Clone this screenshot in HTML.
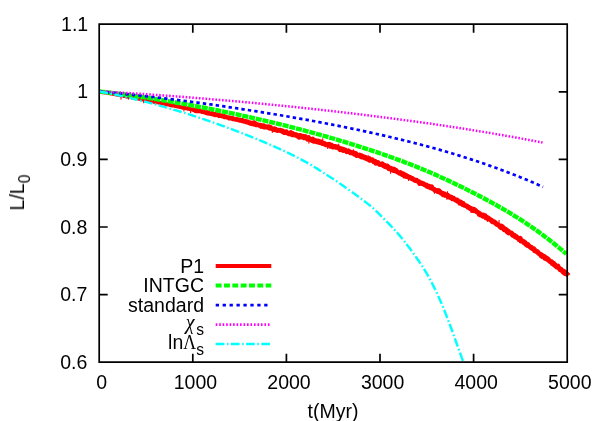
<!DOCTYPE html>
<html><head><meta charset="utf-8"><title>plot</title>
<style>html,body{margin:0;padding:0;background:#fff}body{width:600px;height:421px;overflow:hidden}</style></head>
<body>
<svg width="600" height="421" viewBox="0 0 600 421" style="display:block;font-family:'Liberation Sans',sans-serif;font-size:19.5px">
<rect width="600" height="421" fill="#fff"/>
<path d="M192.80,362.2 v-8.5 M192.80,24.2 v8.5 M99.2,91.80 h8.5 M567.2,91.80 h-8.5 M286.40,362.2 v-8.5 M286.40,24.2 v8.5 M99.2,159.40 h8.5 M567.2,159.40 h-8.5 M380.00,362.2 v-8.5 M380.00,24.2 v8.5 M99.2,227.00 h8.5 M567.2,227.00 h-8.5 M473.60,362.2 v-8.5 M473.60,24.2 v8.5 M99.2,294.60 h8.5 M567.2,294.60 h-8.5" fill="none" stroke="#000" stroke-width="1.7"/>
<path d="M99.50,91.50 L100.02,91.59 L100.54,91.68 L101.06,91.90 L101.59,91.83 L102.11,91.92 L102.63,92.28 L103.15,92.16 L103.67,92.22 L104.19,92.41 L104.71,92.55 L105.24,92.50 L105.76,92.67 L106.28,92.57 L106.80,92.74 L107.32,92.82 L107.84,92.80 L108.36,92.87 L108.89,92.95 L109.41,93.22 L109.93,93.32 L110.45,93.39 L110.97,93.54 L111.49,93.46 L112.02,93.71 L112.54,93.84 L113.06,94.00 L113.58,93.89 L114.10,94.04 L114.62,93.94 L115.14,94.22 L115.67,94.10 L116.19,94.29 L116.71,94.70 L117.23,94.39 L117.75,94.86 L118.27,94.89 L118.79,94.91 L119.32,95.10 L119.84,95.21 L120.36,95.37 L120.88,95.30 L121.40,95.35 L121.92,95.45 L122.44,95.50 L122.97,95.71 L123.49,95.71 L124.01,96.04 L124.53,95.77 L125.05,95.97 L125.57,96.08 L126.09,96.04 L126.62,96.63 L127.14,96.19 L127.66,96.56 L128.18,96.62 L128.70,96.99 L129.22,96.64 L129.75,97.12 L130.27,96.99 L130.79,97.16 L131.31,97.19 L131.83,97.46 L132.35,97.33 L132.87,97.56 L133.40,97.72 L133.92,98.00 L134.44,97.57 L134.96,98.16 L135.48,98.19 L136.00,98.11 L136.52,98.31 L137.05,98.31 L137.57,98.67 L138.09,98.59 L138.61,98.64 L139.13,98.74 L139.65,98.84 L140.17,98.95 L140.70,98.96 L141.22,99.43 L141.74,99.03 L142.26,98.92 L142.78,99.46 L143.30,99.56 L143.82,99.72 L144.35,99.75 L144.87,99.86 L145.39,100.02 L145.91,100.20 L146.43,100.13 L146.95,100.24 L147.48,100.63 L148.00,100.56 L148.52,100.47 L149.04,100.99 L149.56,100.89 L150.08,100.83 L150.60,100.86 L151.13,101.14 L151.65,101.10 L152.17,101.18 L152.69,101.25 L153.21,101.46 L153.73,101.76 L154.25,101.67 L154.78,101.65 L155.30,102.02 L155.82,102.04 L156.34,102.25 L156.86,102.39 L157.38,102.33 L157.90,102.43 L158.43,102.55 L158.95,102.52 L159.47,102.85 L159.99,103.04 L160.51,103.00 L161.03,103.05 L161.55,103.15 L162.08,103.19 L162.60,103.29 L163.12,103.45 L163.64,103.49 L164.16,103.65 L164.68,103.60 L165.21,103.97 L165.73,104.04 L166.25,103.97 L166.77,103.92 L167.29,104.35 L167.81,104.61 L168.33,104.45 L168.86,104.60 L169.38,104.69 L169.90,104.98 L170.42,104.85 L170.94,105.24 L171.46,105.15 L171.98,105.45 L172.51,105.42 L173.03,105.49 L173.55,105.39 L174.07,105.63 L174.59,105.80 L175.11,106.06 L175.63,106.10 L176.16,106.05 L176.68,106.34 L177.20,106.55 L177.72,106.47 L178.24,106.52 L178.76,106.64 L179.28,106.96 L179.81,107.02 L180.33,106.87 L180.85,107.21 L181.37,107.16 L181.89,107.22 L182.41,107.69 L182.93,107.73 L183.46,107.55 L183.98,107.81 L184.50,108.00 L185.02,107.89 L185.54,108.10 L186.06,108.36 L186.59,108.00 L187.11,108.52 L187.63,108.71 L188.15,108.77 L188.67,108.52 L189.19,108.96 L189.71,108.83 L190.24,109.23 L190.76,109.35 L191.28,109.38 L191.80,109.29 L192.32,109.43 L192.84,109.84 L193.36,109.59 L193.89,109.99 L194.41,110.11 L194.93,110.05 L195.45,110.73 L195.97,110.35 L196.49,110.91 L197.01,110.12 L197.54,110.18 L198.06,111.00" fill="none" stroke="#ff0000" stroke-width="3.9" stroke-linejoin="round"/>
<path d="M193.36,109.59 L193.89,109.99 L194.41,110.11 L194.93,110.05 L195.45,110.73 L195.97,110.35 L196.49,110.91 L197.01,110.12 L197.54,110.18 L198.06,111.00 L198.58,111.03 L199.10,110.93 L199.62,111.10 L200.14,110.80 L200.66,111.20 L201.19,111.22 L201.71,111.51 L202.23,111.88 L202.75,111.80 L203.27,111.99 L203.79,111.85 L204.32,112.03 L204.84,112.27 L205.36,112.29 L205.88,112.77 L206.40,112.37 L206.92,113.16 L207.44,112.57 L207.97,113.19 L208.49,112.85 L209.01,113.56 L209.53,113.30 L210.05,113.48 L210.57,113.69 L211.09,113.45 L211.62,113.46 L212.14,113.33 L212.66,114.27 L213.18,113.90 L213.70,114.04 L214.22,114.30 L214.74,114.94 L215.27,114.09 L215.79,114.72 L216.31,114.67 L216.83,115.03 L217.35,114.52 L217.87,115.02 L218.39,115.47 L218.92,115.78 L219.44,115.91 L219.96,115.36 L220.48,115.73 L221.00,115.80 L221.52,115.57 L222.05,115.67 L222.57,116.40 L223.09,116.38 L223.61,116.39 L224.13,116.89 L224.65,116.38 L225.17,116.94 L225.70,116.91 L226.22,117.01 L226.74,117.29 L227.26,117.32 L227.78,117.47 L228.30,117.59 L228.82,118.21 L229.35,117.66 L229.87,118.18 L230.39,118.18 L230.91,118.02 L231.43,118.49 L231.95,118.11 L232.47,118.85 L233.00,118.37 L233.52,118.59 L234.04,118.96 L234.56,119.25 L235.08,119.40 L235.60,119.52 L236.12,119.30 L236.65,119.19 L237.17,119.79 L237.69,119.84 L238.21,119.56 L238.73,120.30 L239.25,120.18 L239.77,119.93 L240.30,120.52 L240.82,120.07 L241.34,120.34 L241.86,120.89 L242.38,120.37 L242.90,121.02 L243.43,120.69 L243.95,121.52 L244.47,121.15 L244.99,121.59 L245.51,121.15 L246.03,121.67 L246.55,122.24 L247.08,122.21 L247.60,121.55 L248.12,122.63 L248.64,122.75 L249.16,122.44 L249.68,123.20 L250.20,122.47 L250.73,122.94 L251.25,123.50 L251.77,123.70 L252.29,123.82 L252.81,123.11 L253.33,123.00 L253.85,123.91 L254.38,123.39 L254.90,123.99 L255.42,123.70" fill="none" stroke="#ff0000" stroke-width="4.4" stroke-linejoin="round"/>
<path d="M250.73,122.94 L251.25,123.50 L251.77,123.70 L252.29,123.82 L252.81,123.11 L253.33,123.00 L253.85,123.91 L254.38,123.39 L254.90,123.99 L255.42,123.70 L255.94,124.69 L256.46,124.73 L256.98,124.78 L257.50,124.72 L258.03,124.86 L258.55,124.87 L259.07,125.26 L259.59,125.35 L260.11,125.56 L260.63,125.36 L261.16,126.38 L261.68,125.91 L262.20,126.47 L262.72,126.58 L263.24,125.87 L263.76,125.70 L264.28,126.97 L264.81,126.47 L265.33,126.79 L265.85,126.80 L266.37,127.09 L266.89,126.71 L267.41,127.28 L267.93,127.27 L268.46,127.59 L268.98,126.80 L269.50,128.20 L270.02,128.14 L270.54,127.46 L271.06,128.00 L271.58,128.44 L272.11,128.83 L272.63,128.71 L273.15,129.42 L273.67,129.00 L274.19,128.72 L274.71,129.00 L275.23,129.72 L275.76,129.30 L276.28,130.05 L276.80,130.27 L277.32,130.23 L277.84,130.55 L278.36,130.19 L278.89,130.41 L279.41,130.30 L279.93,130.44 L280.45,130.17 L280.97,130.74 L281.49,130.66 L282.01,130.65 L282.54,131.47 L283.06,131.75 L283.58,131.55 L284.10,132.43 L284.62,132.39 L285.14,132.58 L285.66,132.00 L286.19,131.76 L286.71,132.80 L287.23,132.84 L287.75,133.17 L288.27,133.18 L288.79,133.70 L289.31,133.15 L289.84,133.72 L290.36,133.16 L290.88,132.67 L291.40,133.66 L291.92,134.68 L292.44,133.38 L292.96,134.76 L293.49,134.13 L294.01,134.40 L294.53,134.75 L295.05,134.98 L295.57,134.57 L296.09,135.23 L296.62,135.52 L297.14,135.86 L297.66,135.26 L298.18,136.49 L298.70,136.81 L299.22,137.20 L299.74,135.57 L300.27,136.43 L300.79,135.61 L301.31,136.83 L301.83,137.06 L302.35,136.39 L302.87,136.33 L303.39,137.34 L303.92,137.70 L304.44,137.16 L304.96,137.57 L305.48,136.61 L306.00,137.65 L306.52,138.22 L307.04,138.37 L307.57,139.23 L308.09,138.04 L308.61,137.64 L309.13,139.13 L309.65,138.77 L310.17,139.36 L310.69,139.73 L311.22,139.82 L311.74,140.40 L312.26,140.51 L312.78,139.15 L313.30,140.11 L313.82,141.30 L314.34,140.25 L314.87,141.09 L315.39,140.74 L315.91,140.71 L316.43,141.87 L316.95,141.76 L317.47,141.27 L318.00,142.01 L318.52,141.06 L319.04,141.51 L319.56,142.48 L320.08,142.21 L320.60,141.82 L321.12,142.74 L321.65,142.84 L322.17,143.48 L322.69,143.48 L323.21,143.02 L323.73,143.08 L324.25,143.42 L324.77,143.54 L325.30,144.55 L325.82,144.78 L326.34,144.83 L326.86,144.50 L327.38,144.36 L327.90,145.10 L328.42,144.64 L328.95,145.10 L329.47,144.32 L329.99,145.11 L330.51,146.21 L331.03,145.14 L331.55,145.08 L332.07,145.91 L332.60,147.00 L333.12,147.06 L333.64,146.33 L334.16,146.44 L334.68,146.80 L335.20,146.56 L335.73,147.22 L336.25,147.23 L336.77,146.82 L337.29,147.44 L337.81,147.78 L338.33,147.65 L338.85,147.70 L339.38,148.89 L339.90,149.56 L340.42,148.65 L340.94,148.76 L341.46,149.41 L341.98,149.22 L342.50,149.13 L343.03,150.39 L343.55,149.36 L344.07,149.70 L344.59,149.91 L345.11,149.99 L345.63,150.50 L346.15,151.09 L346.68,151.71 L347.20,151.50 L347.72,151.37 L348.24,150.92 L348.76,151.70 L349.28,151.45 L349.80,152.06 L350.33,152.79 L350.85,152.59 L351.37,152.57 L351.89,152.49 L352.41,153.05 L352.93,153.31 L353.46,152.98 L353.98,153.39 L354.50,154.27 L355.02,153.20 L355.54,154.00 L356.06,153.83 L356.58,155.38 L357.11,155.11 L357.63,155.26 L358.15,155.40 L358.67,155.54 L359.19,155.75 L359.71,155.01 L360.23,156.13 L360.76,156.50 L361.28,155.69 L361.80,157.01 L362.32,157.14 L362.84,156.25 L363.36,156.97 L363.88,157.26 L364.41,157.35 L364.93,158.02 L365.45,157.39 L365.97,158.12 L366.49,158.55 L367.01,159.01 L367.53,158.88 L368.06,158.94 L368.58,159.62 L369.10,158.49 L369.62,160.16 L370.14,159.75 L370.66,159.49 L371.18,160.11 L371.71,159.62 L372.23,159.73 L372.75,160.80 L373.27,160.79 L373.79,161.76 L374.31,161.17 L374.84,161.18 L375.36,161.57 L375.88,163.12 L376.40,162.49 L376.92,162.39 L377.44,162.42 L377.96,162.59 L378.49,163.27 L379.01,163.79 L379.53,164.37 L380.05,164.59 L380.57,164.38 L381.09,164.14 L381.61,164.26 L382.14,163.76 L382.66,164.63 L383.18,165.58 L383.70,165.42 L384.22,166.00 L384.74,165.37 L385.26,166.72 L385.79,166.65 L386.31,166.75 L386.83,167.16 L387.35,166.07 L387.87,167.14 L388.39,167.20 L388.91,168.79 L389.44,168.02 L389.96,168.10 L390.48,169.01 L391.00,168.29 L391.52,169.76 L392.04,168.93 L392.57,169.49 L393.09,169.30 L393.61,170.39 L394.13,169.14 L394.65,170.81 L395.17,170.29 L395.69,170.96 L396.22,170.60 L396.74,171.53 L397.26,171.75 L397.78,172.19 L398.30,172.29 L398.82,172.69 L399.34,173.11 L399.87,172.66 L400.39,172.51 L400.91,172.70 L401.43,173.92 L401.95,173.63 L402.47,174.59 L402.99,174.33 L403.52,174.05 L404.04,175.25 L404.56,176.01 L405.08,175.20 L405.60,175.06 L406.12,175.35 L406.64,176.47 L407.17,175.98 L407.69,176.31 L408.21,177.10 L408.73,177.01 L409.25,177.31 L409.77,177.23 L410.30,177.43 L410.82,178.08 L411.34,178.32 L411.86,178.79 L412.38,178.49 L412.90,179.16 L413.42,179.48 L413.95,179.53 L414.47,180.03 L414.99,180.50 L415.51,180.34 L416.03,180.53 L416.55,180.26 L417.07,181.16 L417.60,181.20 L418.12,181.34 L418.64,181.33 L419.16,182.29 L419.68,183.53 L420.20,182.72 L420.72,182.80 L421.25,183.22 L421.77,182.96 L422.29,183.56 L422.81,183.43 L423.33,183.70 L423.85,184.39 L424.37,184.64 L424.90,184.72 L425.42,184.63 L425.94,185.42 L426.46,184.99 L426.98,186.18 L427.50,185.87 L428.03,186.30 L428.55,186.95 L429.07,187.09 L429.59,186.41 L430.11,187.19 L430.63,187.75 L431.15,187.28 L431.68,186.88 L432.20,188.30 L432.72,188.57 L433.24,189.06 L433.76,189.14 L434.28,189.42 L434.80,189.73 L435.33,190.56 L435.85,190.37 L436.37,190.65 L436.89,190.44 L437.41,191.46 L437.93,191.06 L438.45,191.78 L438.98,190.62 L439.50,192.05 L440.02,192.14 L440.54,192.22 L441.06,193.35 L441.58,193.17 L442.10,193.16 L442.63,193.22 L443.15,194.69 L443.67,194.38 L444.19,194.60 L444.71,194.15 L445.23,195.45 L445.75,195.34 L446.28,195.19 L446.80,195.53 L447.32,195.04 L447.84,196.44 L448.36,195.83 L448.88,197.06 L449.41,196.69 L449.93,196.86 L450.45,197.62 L450.97,197.81 L451.49,197.41 L452.01,198.21 L452.53,198.82 L453.06,198.66 L453.58,198.38 L454.10,199.20 L454.62,199.11 L455.14,199.58 L455.66,200.16 L456.18,200.38 L456.71,200.58 L457.23,200.13 L457.75,201.40 L458.27,201.40 L458.79,201.58 L459.31,202.13 L459.83,203.29 L460.36,201.97 L460.88,202.09 L461.40,203.55 L461.92,203.05 L462.44,204.37 L462.96,203.52 L463.48,204.05 L464.01,204.99 L464.53,205.31 L465.05,205.36 L465.57,205.65 L466.09,205.64 L466.61,205.77 L467.14,206.18 L467.66,207.20 L468.18,207.21 L468.70,207.15 L469.22,207.59 L469.74,208.14 L470.26,208.60 L470.79,208.24 L471.31,208.56 L471.83,209.06 L472.35,210.49 L472.87,209.61 L473.39,210.41 L473.91,209.32 L474.44,210.80 L474.96,209.98 L475.48,210.44 L476.00,210.96 L476.52,211.51 L477.04,211.97 L477.56,212.37 L478.09,212.60 L478.61,212.58 L479.13,214.39 L479.65,213.60 L480.17,214.05 L480.69,215.03 L481.21,214.81 L481.74,214.93 L482.26,215.11 L482.78,216.19 L483.30,215.04 L483.82,215.42 L484.34,216.28 L484.87,215.51 L485.39,216.45 L485.91,217.71 L486.43,217.24 L486.95,217.87 L487.47,218.45 L487.99,217.85 L488.52,218.88 L489.04,218.76 L489.56,218.85 L490.08,219.58 L490.60,220.01 L491.12,220.17 L491.64,220.36 L492.17,221.49 L492.69,221.92 L493.21,221.95 L493.73,221.95 L494.25,221.81 L494.77,222.25 L495.29,222.44 L495.82,223.43 L496.34,224.11 L496.86,224.44 L497.38,224.31 L497.90,224.47 L498.42,225.08 L498.94,225.39 L499.47,225.96 L499.99,226.73 L500.51,226.00 L501.03,227.72 L501.55,225.98 L502.07,226.48 L502.59,226.95 L503.12,227.54 L503.64,228.27 L504.16,229.76 L504.68,228.73 L505.20,229.97 L505.72,229.59 L506.25,230.19 L506.77,229.96 L507.29,231.93 L507.81,231.14 L508.33,231.20 L508.85,232.98 L509.37,232.30 L509.90,232.77 L510.42,232.84 L510.94,232.85 L511.46,232.91 L511.98,233.88 L512.50,235.13 L513.02,234.89 L513.55,234.95 L514.07,235.92 L514.59,235.29 L515.11,236.79 L515.63,236.46 L516.15,236.42 L516.67,237.52 L517.20,237.80 L517.72,237.74 L518.24,238.38 L518.76,239.12 L519.28,239.69 L519.80,238.94 L520.32,238.42 L520.85,241.11 L521.37,240.33 L521.89,240.62 L522.41,241.40 L522.93,241.35 L523.45,242.44 L523.98,241.68 L524.50,242.57 L525.02,242.41 L525.54,244.16 L526.06,243.66 L526.58,244.70 L527.10,245.21 L527.63,244.30 L528.15,245.16 L528.67,246.00 L529.19,246.05 L529.71,246.33 L530.23,247.19 L530.75,247.60 L531.28,247.23 L531.80,247.84 L532.32,248.60 L532.84,248.77 L533.36,249.11 L533.88,248.87 L534.40,250.67 L534.93,250.07 L535.45,250.70 L535.97,250.93 L536.49,251.36 L537.01,251.79 L537.53,251.68 L538.05,252.67 L538.58,253.46 L539.10,253.45 L539.62,254.00 L540.14,254.27 L540.66,254.43 L541.18,255.70 L541.71,254.85 L542.23,255.77 L542.75,256.48 L543.27,256.50 L543.79,256.23 L544.31,256.60 L544.83,258.31 L545.36,257.45 L545.88,258.32 L546.40,258.98 L546.92,259.15 L547.44,258.62 L547.96,258.95 L548.48,260.23 L549.01,260.30 L549.53,260.95 L550.05,261.52 L550.57,261.95 L551.09,261.60 L551.61,261.83 L552.13,263.53 L552.66,263.15 L553.18,263.28 L553.70,263.27 L554.22,264.93 L554.74,264.44 L555.26,264.94 L555.78,266.18 L556.31,266.42 L556.83,266.95 L557.35,266.44 L557.87,266.05 L558.39,267.39 L558.91,268.13 L559.44,268.36 L559.96,269.54 L560.48,269.68 L561.00,269.39 L561.52,270.59 L562.04,270.64 L562.56,270.88 L563.09,272.09 L563.61,271.11 L564.13,272.86 L564.65,273.30 L565.17,272.15 L565.69,273.48 L566.21,273.91 L566.74,273.83 L567.26,274.52 L567.78,274.82 L568.30,275.66" fill="none" stroke="#ff0000" stroke-width="4.9" stroke-linejoin="round"/>
<path d="M120.9,95.3 l0.2,4.3 M128.2,96.7 l0.3,2.9 M143.3,99.6 l0.4,3.6 M184.0,107.8 l-0.1,3.7 M190.8,109.2 l-0.2,4.1 M253.9,123.8 l0.5,-3.7 M272.1,128.6 l0.3,4.3 M309.1,138.9 l-0.3,4.7 M322.7,143.0 l0.0,-4.7 M327.9,144.6 l-0.2,4.4 M338.9,148.3 l-0.3,-4.6 M354.0,153.6 l-0.6,-4.3 M368.1,159.1 l-0.0,-4.1 M391.0,168.8 l-0.5,4.9 M408.7,177.0 l-0.1,4.0 M434.8,189.6 l-0.4,4.1 M446.8,195.6 l0.1,4.1 M447.8,196.1 l-0.4,-4.8 M464.0,204.6 l-0.1,-3.5 M470.8,208.3 l0.2,4.3 M487.0,217.8 l0.5,4.1 M498.9,225.3 l0.2,-5.3 M517.2,237.5 l0.6,3.9 M541.7,255.2 l-0.3,3.7" fill="none" stroke="#ff0000" stroke-width="1.1"/>
<path d="M99.50,91.50 L101.06,91.67 L102.62,91.85 L104.18,92.02 L105.74,92.20 L107.31,92.38 L108.87,92.57 L110.43,92.75 L111.99,92.94 L113.55,93.13 L115.11,93.32 L116.67,93.52 L118.23,93.72 L119.80,93.92 L121.36,94.12 L122.92,94.32 L124.48,94.53 L126.04,94.74 L127.60,94.95 L129.16,95.16 L130.72,95.38 L132.29,95.60 L133.85,95.82 L135.41,96.04 L136.97,96.26 L138.53,96.49 L140.09,96.72 L141.65,96.95 L143.21,97.18 L144.77,97.41 L146.34,97.65 L147.90,97.89 L149.46,98.13 L151.02,98.37 L152.58,98.62 L154.14,98.86 L155.70,99.11 L157.26,99.36 L158.83,99.62 L160.39,99.87 L161.95,100.13 L163.51,100.38 L165.07,100.64 L166.63,100.91 L168.19,101.17 L169.75,101.44 L171.32,101.70 L172.88,101.97 L174.44,102.24 L176.00,102.52 L177.56,102.79 L179.12,103.07 L180.68,103.35 L182.24,103.63 L183.81,103.91 L185.37,104.19 L186.93,104.48 L188.49,104.76 L190.05,105.05 L191.61,105.34 L193.17,105.63 L194.73,105.93 L196.29,106.22 L197.86,106.52 L199.42,106.81 L200.98,107.11 L202.54,107.42 L204.10,107.72 L205.66,108.02 L207.22,108.33 L208.78,108.64 L210.35,108.95 L211.91,109.26 L213.47,109.57 L215.03,109.88 L216.59,110.20 L218.15,110.51 L219.71,110.83 L221.27,111.15 L222.84,111.47 L224.40,111.79 L225.96,112.12 L227.52,112.44 L229.08,112.77 L230.64,113.10 L232.20,113.43 L233.76,113.76 L235.32,114.09 L236.89,114.43 L238.45,114.76 L240.01,115.10 L241.57,115.44 L243.13,115.78 L244.69,116.12 L246.25,116.46 L247.81,116.81 L249.38,117.16 L250.94,117.50 L252.50,117.85 L254.06,118.20 L255.62,118.56 L257.18,118.91 L258.74,119.27 L260.30,119.62 L261.87,119.98 L263.43,120.34 L264.99,120.71 L266.55,121.07 L268.11,121.44 L269.67,121.80 L271.23,122.18 L272.79,122.55 L274.35,122.92 L275.92,123.30 L277.48,123.68 L279.04,124.06 L280.60,124.44 L282.16,124.82 L283.72,125.21 L285.28,125.60 L286.84,125.99 L288.41,126.38 L289.97,126.77 L291.53,127.17 L293.09,127.57 L294.65,127.97 L296.21,128.37 L297.77,128.78 L299.33,129.19 L300.90,129.60 L302.46,130.01 L304.02,130.42 L305.58,130.84 L307.14,131.26 L308.70,131.68 L310.26,132.10 L311.82,132.53 L313.38,132.95 L314.95,133.38 L316.51,133.81 L318.07,134.25 L319.63,134.68 L321.19,135.12 L322.75,135.56 L324.31,136.00 L325.87,136.45 L327.44,136.89 L329.00,137.34 L330.56,137.79 L332.12,138.24 L333.68,138.70 L335.24,139.16 L336.80,139.61 L338.36,140.08 L339.93,140.54 L341.49,141.00 L343.05,141.47 L344.61,141.94 L346.17,142.42 L347.73,142.89 L349.29,143.37 L350.85,143.85 L352.42,144.33 L353.98,144.82 L355.54,145.30 L357.10,145.79 L358.66,146.29 L360.22,146.78 L361.78,147.28 L363.34,147.78 L364.90,148.28 L366.47,148.79 L368.03,149.30 L369.59,149.81 L371.15,150.33 L372.71,150.84 L374.27,151.36 L375.83,151.89 L377.39,152.41 L378.96,152.94 L380.52,153.48 L382.08,154.01 L383.64,154.55 L385.20,155.09 L386.76,155.64 L388.32,156.19 L389.88,156.74 L391.45,157.30 L393.01,157.86 L394.57,158.42 L396.13,158.99 L397.69,159.56 L399.25,160.13 L400.81,160.71 L402.37,161.30 L403.93,161.88 L405.50,162.48 L407.06,163.07 L408.62,163.67 L410.18,164.28 L411.74,164.89 L413.30,165.50 L414.86,166.12 L416.42,166.74 L417.99,167.37 L419.55,168.01 L421.11,168.64 L422.67,169.29 L424.23,169.94 L425.79,170.59 L427.35,171.25 L428.91,171.91 L430.48,172.58 L432.04,173.26 L433.60,173.94 L435.16,174.63 L436.72,175.32 L438.28,176.01 L439.84,176.71 L441.40,177.42 L442.96,178.13 L444.53,178.85 L446.09,179.57 L447.65,180.29 L449.21,181.02 L450.77,181.76 L452.33,182.50 L453.89,183.24 L455.45,183.99 L457.02,184.74 L458.58,185.50 L460.14,186.26 L461.70,187.02 L463.26,187.80 L464.82,188.57 L466.38,189.35 L467.94,190.13 L469.51,190.92 L471.07,191.71 L472.63,192.50 L474.19,193.30 L475.75,194.10 L477.31,194.91 L478.87,195.72 L480.43,196.54 L481.99,197.36 L483.56,198.18 L485.12,199.01 L486.68,199.85 L488.24,200.69 L489.80,201.54 L491.36,202.39 L492.92,203.25 L494.48,204.11 L496.05,204.99 L497.61,205.86 L499.17,206.75 L500.73,207.64 L502.29,208.54 L503.85,209.45 L505.41,210.36 L506.97,211.28 L508.54,212.21 L510.10,213.15 L511.66,214.09 L513.22,215.05 L514.78,216.01 L516.34,216.99 L517.90,217.97 L519.46,218.96 L521.03,219.96 L522.59,220.97 L524.15,221.99 L525.71,223.02 L527.27,224.06 L528.83,225.11 L530.39,226.17 L531.95,227.24 L533.51,228.32 L535.08,229.42 L536.64,230.52 L538.20,231.64 L539.76,232.77 L541.32,233.91 L542.88,235.06 L544.44,236.23 L546.00,237.41 L547.57,238.60 L549.13,239.80 L550.69,241.02 L552.25,242.25 L553.81,243.49 L555.37,244.75 L556.93,246.02 L558.49,247.30 L560.06,248.60 L561.62,249.92 L563.18,251.24 L564.74,252.59 L566.30,253.95" fill="none" stroke="#00ff00" stroke-width="4.4" stroke-dasharray="6.0 0.9"/>
<path d="M99.50,91.50 L100.98,91.63 L102.47,91.77 L103.95,91.91 L105.43,92.04 L106.92,92.18 L108.40,92.32 L109.88,92.46 L111.37,92.60 L112.85,92.74 L114.33,92.89 L115.82,93.03 L117.30,93.18 L118.78,93.32 L120.27,93.47 L121.75,93.62 L123.23,93.77 L124.72,93.92 L126.20,94.07 L127.68,94.23 L129.17,94.38 L130.65,94.54 L132.13,94.69 L133.62,94.85 L135.10,95.01 L136.58,95.17 L138.07,95.33 L139.55,95.49 L141.03,95.65 L142.52,95.81 L144.00,95.98 L145.48,96.14 L146.96,96.31 L148.45,96.48 L149.93,96.64 L151.41,96.81 L152.90,96.98 L154.38,97.16 L155.86,97.33 L157.35,97.50 L158.83,97.68 L160.31,97.85 L161.80,98.03 L163.28,98.21 L164.76,98.39 L166.25,98.57 L167.73,98.75 L169.21,98.93 L170.70,99.12 L172.18,99.30 L173.66,99.48 L175.15,99.67 L176.63,99.86 L178.11,100.05 L179.60,100.24 L181.08,100.43 L182.56,100.62 L184.05,100.81 L185.53,101.01 L187.01,101.20 L188.50,101.40 L189.98,101.60 L191.46,101.79 L192.95,101.99 L194.43,102.19 L195.91,102.39 L197.40,102.60 L198.88,102.80 L200.36,103.01 L201.85,103.21 L203.33,103.42 L204.81,103.62 L206.30,103.83 L207.78,104.04 L209.26,104.25 L210.75,104.46 L212.23,104.68 L213.71,104.89 L215.20,105.10 L216.68,105.32 L218.16,105.53 L219.65,105.75 L221.13,105.97 L222.61,106.19 L224.10,106.41 L225.58,106.62 L227.06,106.85 L228.55,107.07 L230.03,107.29 L231.51,107.51 L232.99,107.74 L234.48,107.96 L235.96,108.18 L237.44,108.41 L238.93,108.64 L240.41,108.86 L241.89,109.09 L243.38,109.32 L244.86,109.55 L246.34,109.78 L247.83,110.01 L249.31,110.24 L250.79,110.47 L252.28,110.70 L253.76,110.94 L255.24,111.17 L256.73,111.40 L258.21,111.64 L259.69,111.88 L261.18,112.11 L262.66,112.35 L264.14,112.59 L265.63,112.83 L267.11,113.07 L268.59,113.31 L270.08,113.55 L271.56,113.80 L273.04,114.04 L274.53,114.29 L276.01,114.53 L277.49,114.78 L278.98,115.03 L280.46,115.28 L281.94,115.53 L283.43,115.78 L284.91,116.03 L286.39,116.28 L287.88,116.54 L289.36,116.79 L290.84,117.05 L292.33,117.30 L293.81,117.56 L295.29,117.82 L296.78,118.08 L298.26,118.34 L299.74,118.61 L301.23,118.87 L302.71,119.13 L304.19,119.40 L305.68,119.67 L307.16,119.93 L308.64,120.20 L310.13,120.47 L311.61,120.75 L313.09,121.02 L314.58,121.29 L316.06,121.57 L317.54,121.84 L319.03,122.12 L320.51,122.40 L321.99,122.68 L323.47,122.96 L324.96,123.25 L326.44,123.53 L327.92,123.81 L329.41,124.10 L330.89,124.39 L332.37,124.68 L333.86,124.97 L335.34,125.26 L336.82,125.55 L338.31,125.85 L339.79,126.14 L341.27,126.44 L342.76,126.74 L344.24,127.04 L345.72,127.34 L347.21,127.64 L348.69,127.94 L350.17,128.25 L351.66,128.56 L353.14,128.86 L354.62,129.17 L356.11,129.49 L357.59,129.80 L359.07,130.11 L360.56,130.43 L362.04,130.74 L363.52,131.06 L365.01,131.38 L366.49,131.70 L367.97,132.03 L369.46,132.35 L370.94,132.68 L372.42,133.00 L373.91,133.33 L375.39,133.66 L376.87,133.99 L378.36,134.33 L379.84,134.66 L381.32,135.00 L382.81,135.34 L384.29,135.68 L385.77,136.02 L387.26,136.36 L388.74,136.71 L390.22,137.06 L391.71,137.40 L393.19,137.76 L394.67,138.11 L396.16,138.46 L397.64,138.82 L399.12,139.18 L400.61,139.54 L402.09,139.90 L403.57,140.26 L405.06,140.63 L406.54,141.00 L408.02,141.37 L409.51,141.74 L410.99,142.11 L412.47,142.49 L413.95,142.87 L415.44,143.25 L416.92,143.63 L418.40,144.02 L419.89,144.41 L421.37,144.80 L422.85,145.19 L424.34,145.58 L425.82,145.98 L427.30,146.38 L428.79,146.78 L430.27,147.19 L431.75,147.60 L433.24,148.01 L434.72,148.42 L436.20,148.83 L437.69,149.25 L439.17,149.67 L440.65,150.10 L442.14,150.52 L443.62,150.95 L445.10,151.38 L446.59,151.81 L448.07,152.25 L449.55,152.69 L451.04,153.13 L452.52,153.57 L454.00,154.02 L455.49,154.47 L456.97,154.92 L458.45,155.38 L459.94,155.84 L461.42,156.30 L462.90,156.76 L464.39,157.23 L465.87,157.70 L467.35,158.18 L468.84,158.65 L470.32,159.13 L471.80,159.61 L473.29,160.10 L474.77,160.58 L476.25,161.08 L477.74,161.57 L479.22,162.07 L480.70,162.57 L482.19,163.07 L483.67,163.58 L485.15,164.09 L486.64,164.60 L488.12,165.12 L489.60,165.64 L491.09,166.16 L492.57,166.69 L494.05,167.22 L495.54,167.75 L497.02,168.29 L498.50,168.83 L499.98,169.38 L501.47,169.93 L502.95,170.48 L504.43,171.03 L505.92,171.59 L507.40,172.16 L508.88,172.72 L510.37,173.29 L511.85,173.87 L513.33,174.45 L514.82,175.03 L516.30,175.62 L517.78,176.21 L519.27,176.80 L520.75,177.40 L522.23,178.01 L523.72,178.61 L525.20,179.23 L526.68,179.84 L528.17,180.46 L529.65,181.09 L531.13,181.72 L532.62,182.35 L534.10,182.99 L535.58,183.63 L537.07,184.28 L538.55,184.93 L540.03,185.58 L541.52,186.24 L543.00,186.91" fill="none" stroke="#0000ff" stroke-width="2.7" stroke-dasharray="3.4 3.1"/>
<path d="M99.50,91.50 L100.98,91.57 L102.46,91.64 L103.94,91.72 L105.43,91.79 L106.91,91.86 L108.39,91.94 L109.87,92.02 L111.35,92.10 L112.83,92.18 L114.32,92.26 L115.80,92.34 L117.28,92.42 L118.76,92.50 L120.24,92.59 L121.72,92.67 L123.21,92.76 L124.69,92.85 L126.17,92.93 L127.65,93.02 L129.13,93.11 L130.61,93.20 L132.10,93.30 L133.58,93.39 L135.06,93.48 L136.54,93.58 L138.02,93.67 L139.50,93.77 L140.98,93.87 L142.47,93.96 L143.95,94.06 L145.43,94.16 L146.91,94.26 L148.39,94.36 L149.87,94.46 L151.36,94.57 L152.84,94.67 L154.32,94.77 L155.80,94.88 L157.28,94.98 L158.76,95.09 L160.25,95.20 L161.73,95.30 L163.21,95.41 L164.69,95.52 L166.17,95.63 L167.65,95.74 L169.14,95.85 L170.62,95.96 L172.10,96.07 L173.58,96.18 L175.06,96.30 L176.54,96.41 L178.03,96.52 L179.51,96.64 L180.99,96.75 L182.47,96.87 L183.95,96.98 L185.43,97.10 L186.91,97.22 L188.40,97.33 L189.88,97.45 L191.36,97.57 L192.84,97.69 L194.32,97.81 L195.80,97.93 L197.29,98.04 L198.77,98.16 L200.25,98.29 L201.73,98.41 L203.21,98.53 L204.69,98.65 L206.18,98.77 L207.66,98.89 L209.14,99.02 L210.62,99.14 L212.10,99.26 L213.58,99.39 L215.07,99.51 L216.55,99.64 L218.03,99.77 L219.51,99.89 L220.99,100.02 L222.47,100.15 L223.95,100.28 L225.44,100.40 L226.92,100.53 L228.40,100.66 L229.88,100.79 L231.36,100.92 L232.84,101.06 L234.33,101.19 L235.81,101.32 L237.29,101.45 L238.77,101.59 L240.25,101.72 L241.73,101.86 L243.22,101.99 L244.70,102.13 L246.18,102.27 L247.66,102.40 L249.14,102.54 L250.62,102.68 L252.11,102.82 L253.59,102.96 L255.07,103.10 L256.55,103.24 L258.03,103.38 L259.51,103.53 L260.99,103.67 L262.48,103.81 L263.96,103.95 L265.44,104.10 L266.92,104.24 L268.40,104.39 L269.88,104.53 L271.37,104.68 L272.85,104.83 L274.33,104.97 L275.81,105.12 L277.29,105.27 L278.77,105.42 L280.26,105.57 L281.74,105.72 L283.22,105.87 L284.70,106.02 L286.18,106.17 L287.66,106.32 L289.15,106.47 L290.63,106.62 L292.11,106.77 L293.59,106.93 L295.07,107.08 L296.55,107.23 L298.04,107.39 L299.52,107.54 L301.00,107.70 L302.48,107.86 L303.96,108.01 L305.44,108.17 L306.92,108.33 L308.41,108.48 L309.89,108.64 L311.37,108.80 L312.85,108.96 L314.33,109.12 L315.81,109.28 L317.30,109.45 L318.78,109.61 L320.26,109.77 L321.74,109.93 L323.22,110.10 L324.70,110.26 L326.19,110.43 L327.67,110.60 L329.15,110.76 L330.63,110.93 L332.11,111.10 L333.59,111.27 L335.08,111.44 L336.56,111.61 L338.04,111.78 L339.52,111.95 L341.00,112.13 L342.48,112.30 L343.96,112.47 L345.45,112.65 L346.93,112.82 L348.41,113.00 L349.89,113.18 L351.37,113.35 L352.85,113.53 L354.34,113.71 L355.82,113.89 L357.30,114.07 L358.78,114.25 L360.26,114.43 L361.74,114.61 L363.23,114.80 L364.71,114.98 L366.19,115.16 L367.67,115.35 L369.15,115.53 L370.63,115.72 L372.12,115.90 L373.60,116.09 L375.08,116.28 L376.56,116.46 L378.04,116.65 L379.52,116.84 L381.01,117.03 L382.49,117.22 L383.97,117.41 L385.45,117.60 L386.93,117.79 L388.41,117.98 L389.89,118.17 L391.38,118.36 L392.86,118.56 L394.34,118.75 L395.82,118.94 L397.30,119.14 L398.78,119.33 L400.27,119.53 L401.75,119.73 L403.23,119.92 L404.71,120.12 L406.19,120.32 L407.67,120.52 L409.16,120.72 L410.64,120.92 L412.12,121.12 L413.60,121.33 L415.08,121.53 L416.56,121.74 L418.05,121.94 L419.53,122.15 L421.01,122.35 L422.49,122.56 L423.97,122.77 L425.45,122.98 L426.93,123.19 L428.42,123.40 L429.90,123.61 L431.38,123.83 L432.86,124.04 L434.34,124.26 L435.82,124.47 L437.31,124.69 L438.79,124.91 L440.27,125.13 L441.75,125.35 L443.23,125.57 L444.71,125.79 L446.20,126.01 L447.68,126.24 L449.16,126.46 L450.64,126.69 L452.12,126.91 L453.60,127.14 L455.09,127.37 L456.57,127.60 L458.05,127.83 L459.53,128.06 L461.01,128.29 L462.49,128.53 L463.97,128.76 L465.46,128.99 L466.94,129.23 L468.42,129.47 L469.90,129.70 L471.38,129.94 L472.86,130.18 L474.35,130.42 L475.83,130.66 L477.31,130.90 L478.79,131.15 L480.27,131.39 L481.75,131.63 L483.24,131.88 L484.72,132.13 L486.20,132.37 L487.68,132.62 L489.16,132.87 L490.64,133.12 L492.13,133.37 L493.61,133.63 L495.09,133.88 L496.57,134.13 L498.05,134.39 L499.53,134.65 L501.02,134.90 L502.50,135.16 L503.98,135.42 L505.46,135.68 L506.94,135.94 L508.42,136.21 L509.90,136.47 L511.39,136.74 L512.87,137.00 L514.35,137.27 L515.83,137.54 L517.31,137.81 L518.79,138.08 L520.28,138.35 L521.76,138.62 L523.24,138.90 L524.72,139.17 L526.20,139.45 L527.68,139.73 L529.17,140.01 L530.65,140.29 L532.13,140.57 L533.61,140.85 L535.09,141.14 L536.57,141.42 L538.06,141.71 L539.54,142.00 L541.02,142.29 L542.50,142.58" fill="none" stroke="#ff00ff" stroke-width="2.5" stroke-dasharray="1.6 1.72"/>
<path d="M99.50,91.50 L100.41,91.68 L101.32,91.85 L102.24,92.03 L103.15,92.21 L104.06,92.39 L104.97,92.57 L105.88,92.76 L106.79,92.94 L107.71,93.13 L108.62,93.31 L109.53,93.50 L110.44,93.69 L111.35,93.88 L112.26,94.07 L113.18,94.27 L114.09,94.46 L115.00,94.66 L115.91,94.85 L116.82,95.05 L117.74,95.25 L118.65,95.45 L119.56,95.65 L120.47,95.86 L121.38,96.06 L122.29,96.26 L123.21,96.47 L124.12,96.68 L125.03,96.89 L125.94,97.09 L126.85,97.30 L127.77,97.52 L128.68,97.73 L129.59,97.94 L130.50,98.16 L131.41,98.37 L132.32,98.59 L133.24,98.81 L134.15,99.02 L135.06,99.24 L135.97,99.46 L136.88,99.69 L137.79,99.91 L138.71,100.13 L139.62,100.36 L140.53,100.58 L141.44,100.81 L142.35,101.04 L143.27,101.26 L144.18,101.49 L145.09,101.72 L146.00,101.95 L146.91,102.19 L147.82,102.42 L148.74,102.66 L149.65,102.89 L150.56,103.13 L151.47,103.37 L152.38,103.62 L153.29,103.86 L154.21,104.10 L155.12,104.35 L156.03,104.60 L156.94,104.85 L157.85,105.10 L158.77,105.35 L159.68,105.61 L160.59,105.86 L161.50,106.12 L162.41,106.37 L163.32,106.63 L164.24,106.89 L165.15,107.15 L166.06,107.42 L166.97,107.68 L167.88,107.95 L168.80,108.21 L169.71,108.48 L170.62,108.75 L171.53,109.02 L172.44,109.29 L173.35,109.56 L174.27,109.83 L175.18,110.11 L176.09,110.38 L177.00,110.66 L177.91,110.94 L178.82,111.21 L179.74,111.49 L180.65,111.77 L181.56,112.06 L182.47,112.34 L183.38,112.62 L184.30,112.90 L185.21,113.19 L186.12,113.47 L187.03,113.76 L187.94,114.05 L188.85,114.34 L189.77,114.63 L190.68,114.92 L191.59,115.21 L192.50,115.50 L193.41,115.79 L194.33,116.09 L195.24,116.39 L196.15,116.68 L197.06,116.98 L197.97,117.28 L198.88,117.58 L199.80,117.89 L200.71,118.19 L201.62,118.50 L202.53,118.81 L203.44,119.11 L204.35,119.42 L205.27,119.73 L206.18,120.05 L207.09,120.36 L208.00,120.67 L208.91,120.99 L209.83,121.30 L210.74,121.62 L211.65,121.94 L212.56,122.26 L213.47,122.58 L214.38,122.91 L215.30,123.23 L216.21,123.55 L217.12,123.88 L218.03,124.21 L218.94,124.54 L219.85,124.86 L220.77,125.19 L221.68,125.53 L222.59,125.86 L223.50,126.19 L224.41,126.53 L225.33,126.86 L226.24,127.20 L227.15,127.54 L228.06,127.88 L228.97,128.21 L229.88,128.56 L230.80,128.90 L231.71,129.24 L232.62,129.58 L233.53,129.93 L234.44,130.27 L235.36,130.62 L236.27,130.97 L237.18,131.32 L238.09,131.67 L239.00,132.02 L239.91,132.37 L240.83,132.72 L241.74,133.07 L242.65,133.43 L243.56,133.78 L244.47,134.14 L245.38,134.50 L246.30,134.86 L247.21,135.22 L248.12,135.58 L249.03,135.94 L249.94,136.31 L250.86,136.67 L251.77,137.04 L252.68,137.41 L253.59,137.78 L254.50,138.15 L255.41,138.52 L256.33,138.90 L257.24,139.27 L258.15,139.65 L259.06,140.03 L259.97,140.41 L260.88,140.79 L261.80,141.17 L262.71,141.55 L263.62,141.94 L264.53,142.33 L265.44,142.71 L266.36,143.10 L267.27,143.49 L268.18,143.89 L269.09,144.28 L270.00,144.68 L270.91,145.07 L271.83,145.47 L272.74,145.87 L273.65,146.27 L274.56,146.67 L275.47,147.08 L276.39,147.49 L277.30,147.89 L278.21,148.30 L279.12,148.71 L280.03,149.13 L280.94,149.54 L281.86,149.95 L282.77,150.37 L283.68,150.79 L284.59,151.21 L285.50,151.63 L286.41,152.06 L287.33,152.49 L288.24,152.93 L289.15,153.37 L290.06,153.81 L290.97,154.26 L291.89,154.71 L292.80,155.16 L293.71,155.62 L294.62,156.08 L295.53,156.55 L296.44,157.02 L297.36,157.49 L298.27,157.96 L299.18,158.44 L300.09,158.92 L301.00,159.40 L301.92,159.88 L302.83,160.37 L303.74,160.86 L304.65,161.36 L305.56,161.86 L306.47,162.36 L307.39,162.87 L308.30,163.38 L309.21,163.90 L310.12,164.42 L311.03,164.95 L311.94,165.49 L312.86,166.03 L313.77,166.59 L314.68,167.15 L315.59,167.73 L316.50,168.31 L317.42,168.89 L318.33,169.48 L319.24,170.08 L320.15,170.67 L321.06,171.27 L321.97,171.86 L322.89,172.46 L323.80,173.04 L324.71,173.62 L325.62,174.20 L326.53,174.78 L327.44,175.35 L328.36,175.93 L329.27,176.50 L330.18,177.07 L331.09,177.65 L332.00,178.23 L332.92,178.81 L333.83,179.40 L334.74,180.00 L335.65,180.60 L336.56,181.21 L337.47,181.83 L338.39,182.46 L339.30,183.09 L340.21,183.73 L341.12,184.37 L342.03,185.02 L342.95,185.66 L343.86,186.32 L344.77,186.97 L345.68,187.62 L346.59,188.27 L347.50,188.92 L348.42,189.57 L349.33,190.21 L350.24,190.85 L351.15,191.49 L352.06,192.13 L352.97,192.78 L353.89,193.42 L354.80,194.07 L355.71,194.72 L356.62,195.37 L357.53,196.03 L358.45,196.70 L359.36,197.37 L360.27,198.05 L361.18,198.73 L362.09,199.41 L363.00,200.09 L363.92,200.78 L364.83,201.47 L365.74,202.17 L366.65,202.88 L367.56,203.60 L368.47,204.32 L369.39,205.06 L370.30,205.81 L371.21,206.58 L372.12,207.37 L373.03,208.17 L373.95,208.99 L374.86,209.83 L375.77,210.69 L376.68,211.55 L377.59,212.43 L378.50,213.32 L379.42,214.22 L380.33,215.13 L381.24,216.04 L382.15,216.95 L383.06,217.87 L383.98,218.78 L384.89,219.70 L385.80,220.63 L386.71,221.56 L387.62,222.49 L388.53,223.43 L389.45,224.37 L390.36,225.33 L391.27,226.29 L392.18,227.26 L393.09,228.23 L394.00,229.22 L394.92,230.22 L395.83,231.23 L396.74,232.25 L397.65,233.28 L398.56,234.33 L399.48,235.38 L400.39,236.46 L401.30,237.55 L402.21,238.66 L403.12,239.79 L404.03,240.93 L404.95,242.09 L405.86,243.26 L406.77,244.45 L407.68,245.65 L408.59,246.87 L409.51,248.09 L410.42,249.33 L411.33,250.58 L412.24,251.83 L413.15,253.09 L414.06,254.36 L414.98,255.63 L415.89,256.91 L416.80,258.19 L417.71,259.48 L418.62,260.79 L419.53,262.11 L420.45,263.45 L421.36,264.81 L422.27,266.20 L423.18,267.61 L424.09,269.05 L425.01,270.53 L425.92,272.04 L426.83,273.59 L427.74,275.19 L428.65,276.82 L429.56,278.49 L430.48,280.20 L431.39,281.95 L432.30,283.74 L433.21,285.55 L434.12,287.40 L435.03,289.29 L435.95,291.20 L436.86,293.14 L437.77,295.11 L438.68,297.10 L439.59,299.12 L440.51,301.17 L441.42,303.28 L442.33,305.44 L443.24,307.65 L444.15,309.91 L445.06,312.21 L445.98,314.54 L446.89,316.90 L447.80,319.27 L448.71,321.67 L449.62,324.07 L450.54,326.49 L451.45,328.97 L452.36,331.49 L453.27,334.03 L454.18,336.60 L455.09,339.17 L456.01,341.72 L456.92,344.26 L457.83,346.79 L458.74,349.32 L459.65,351.86 L460.56,354.39 L461.48,356.93 L462.39,359.46 L463.30,362.00" fill="none" stroke="#00ffff" stroke-width="2.4" stroke-dasharray="8.7 2.5 1.6 2.4"/>
<path d="M215.7,266.1 H271.3" stroke="#ff0000" stroke-width="4"/>
<path d="M215.7,285.6 H271.3" stroke="#00ff00" stroke-width="4" stroke-dasharray="5.9 2.43"/>
<path d="M215.7,305.1 H268" stroke="#0000ff" stroke-width="2.7" stroke-dasharray="3.3 3.63"/>
<path d="M215.7,324.6 H270.5" stroke="#ff00ff" stroke-width="2.7" stroke-dasharray="1.6 1.88"/>
<path d="M215.7,344.0 H270.5" stroke="#00ffff" stroke-width="2.4" stroke-dasharray="8.7 2.5 1.6 2.4"/>
<path d="M99.2,24.2 H567.2 V362.2 H99.2 Z" fill="none" stroke="#000" stroke-width="1.7"/>
<g opacity="0.999">
<text x="101.80" y="388.6" text-anchor="middle">0</text>
<text x="195.40" y="388.6" text-anchor="middle">1000</text>
<text x="289.00" y="388.6" text-anchor="middle">2000</text>
<text x="382.60" y="388.6" text-anchor="middle">3000</text>
<text x="476.20" y="388.6" text-anchor="middle">4000</text>
<text x="569.80" y="388.6" text-anchor="middle">5000</text>
<text x="88.2" y="30.80" text-anchor="end">1.1</text>
<text x="88.2" y="98.40" text-anchor="end">1</text>
<text x="87.3" y="166.00" text-anchor="end">0.9</text>
<text x="87.3" y="233.60" text-anchor="end">0.8</text>
<text x="87.3" y="301.20" text-anchor="end">0.7</text>
<text x="87.3" y="368.80" text-anchor="end">0.6</text>
<text x="204" y="272.90" text-anchor="end">P1</text>
<text x="204" y="292.40" text-anchor="end">INTGC</text>
<text x="204" y="311.90" text-anchor="end">standard</text>
<text x="204" y="329.00" text-anchor="end"><tspan font-family="'Liberation Serif',serif" font-style="italic" font-size="20px">χ</tspan><tspan dx="1.6" dy="5.85" font-size="15.60px">s</tspan></text>
<text x="204" y="348.60" text-anchor="end">ln<tspan font-family="'Liberation Serif',serif" font-size="20px" textLength="12.9" lengthAdjust="spacingAndGlyphs">Λ</tspan><tspan dy="6.3" font-size="15.60px">s</tspan></text>
<text x="333" y="417.7" text-anchor="middle">t(Myr)</text>
<text transform="translate(24,192.5) rotate(-90)" text-anchor="middle">L/L<tspan dy="5.9" font-size="15.60px">0</tspan></text>
</g>
</svg>
</body></html>
